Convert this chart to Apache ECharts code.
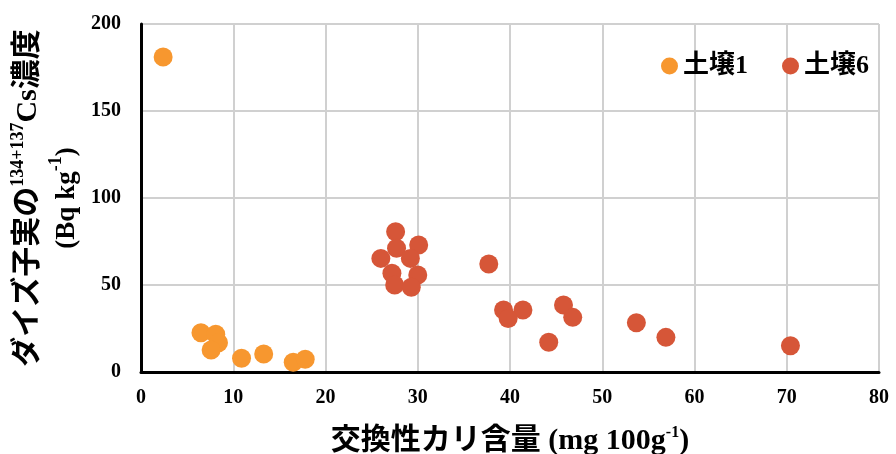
<!DOCTYPE html>
<html>
<head>
<meta charset="utf-8">
<script src="https://cdn.jsdelivr.net/npm/echarts@6/dist/echarts.min.js"></script>
<style>
  html, body { margin: 0; padding: 0; background: #fff; }
  #chart { width: 896px; height: 454px; }
</style>
</head>
<body>
<div id="chart"></div>
<script>
// exchangeable K (mg/100g) vs soybean grain Cs (Bq/kg)
const seriesNames = ['土壌1', '土壌6']
const soil1X = [2.4, 6.5, 8.1, 8.4, 7.6, 10.9, 13.3, 16.5, 17.8]
const soil1Y = [181, 22.6, 21.7, 16.8, 12.6, 7.9, 10.3, 5.6, 7.3]
const soil6X = [27.6, 27.7, 26.0, 30.1, 29.2, 27.2, 30.0, 27.5, 29.3, 37.7, 39.3, 41.4, 39.8, 45.8, 46.8, 44.2, 53.7, 56.9, 70.4]
const soil6Y = [80.6, 71.1, 65.3, 73.0, 65.3, 56.7, 55.7, 50.0, 48.7, 62.1, 35.6, 35.6, 30.8, 38.5, 31.4, 17.1, 28.3, 19.9, 15.1]
const xTicks = [0, 10, 20, 30, 40, 50, 60, 70, 80]
const yTicks = [0, 50, 100, 150, 200]
const colors = ['#F7972F', '#D65638']

const FONT = "'Liberation Serif', 'Noto Sans CJK JP'"
const zip = (xs, ys) => xs.map((x, i) => [x, ys[i]])

const chart = echarts.init(document.getElementById('chart'))

const option = {
  backgroundColor: '#fff',
  animation: false,
  color: colors,
  grid: { left: 141, right: 17, top: 24, bottom: 82, outerBoundsMode: 'none', containLabel: false },
  legend: {
    data: seriesNames,
    right: 22,
    top: 48,
    icon: 'circle',
    itemWidth: 17,
    itemHeight: 17,
    itemGap: 34,
    textStyle: { fontFamily: FONT, fontSize: 26, fontWeight: 'bold', color: '#000' }
  },
  xAxis: {
    type: 'value',
    min: xTicks[0],
    max: xTicks[xTicks.length - 1],
    interval: 10,
    name: '{t|交換性カリ含量 (mg 100g}{s|-1}{t|)}',
    nameLocation: 'middle',
    nameGap: 53,
    nameTextStyle: {
      rich: {
        t: { fontFamily: FONT, fontSize: 30, fontWeight: 'bold', color: '#000', lineHeight: 32 },
        s: { fontFamily: FONT, fontSize: 16, fontWeight: 'bold', color: '#000', verticalAlign: 'top', lineHeight: 32 }
      }
    },
    axisLine: { lineStyle: { color: '#000', width: 3 } },
    axisTick: { show: false },
    axisLabel: { fontFamily: FONT, fontSize: 20, fontWeight: 'bold', color: '#000', margin: 16 },
    splitLine: { show: true, lineStyle: { color: '#D0D0D0', width: 2 } }
  },
  yAxis: {
    type: 'value',
    min: yTicks[0],
    max: yTicks[yTicks.length - 1],
    interval: 50,
    name: '{t|ダイズ子実の}{s|134+137}{t|Cs濃度}\n{u|(Bq kg}{s|-1}{u|)}',
    nameLocation: 'middle',
    nameRotate: 90,
    nameGap: 53,
    nameTextStyle: {
      rich: {
        t: { fontFamily: FONT, fontSize: 30, fontWeight: 'bold', color: '#000', lineHeight: 38 },
        u: { fontFamily: FONT, fontSize: 27, fontWeight: 'bold', color: '#000', lineHeight: 38 },
        s: { fontFamily: FONT, fontSize: 18, fontWeight: 'bold', color: '#000', verticalAlign: 'top', lineHeight: 38 }
      }
    },
    axisLine: { show: true, lineStyle: { color: '#000', width: 3 } },
    axisTick: { show: false },
    axisLabel: { fontFamily: FONT, fontSize: 20, fontWeight: 'bold', color: '#000', margin: 20 },
    splitLine: { show: true, lineStyle: { color: '#D0D0D0', width: 2 } }
  },
  series: [
    { name: seriesNames[0], type: 'scatter', symbolSize: 19, data: zip(soil1X, soil1Y), itemStyle: { opacity: 1 } },
    { name: seriesNames[1], type: 'scatter', symbolSize: 19, data: zip(soil6X, soil6Y), itemStyle: { opacity: 1 } }
  ]
}

chart.setOption(option)
</script>
</body>
</html>
